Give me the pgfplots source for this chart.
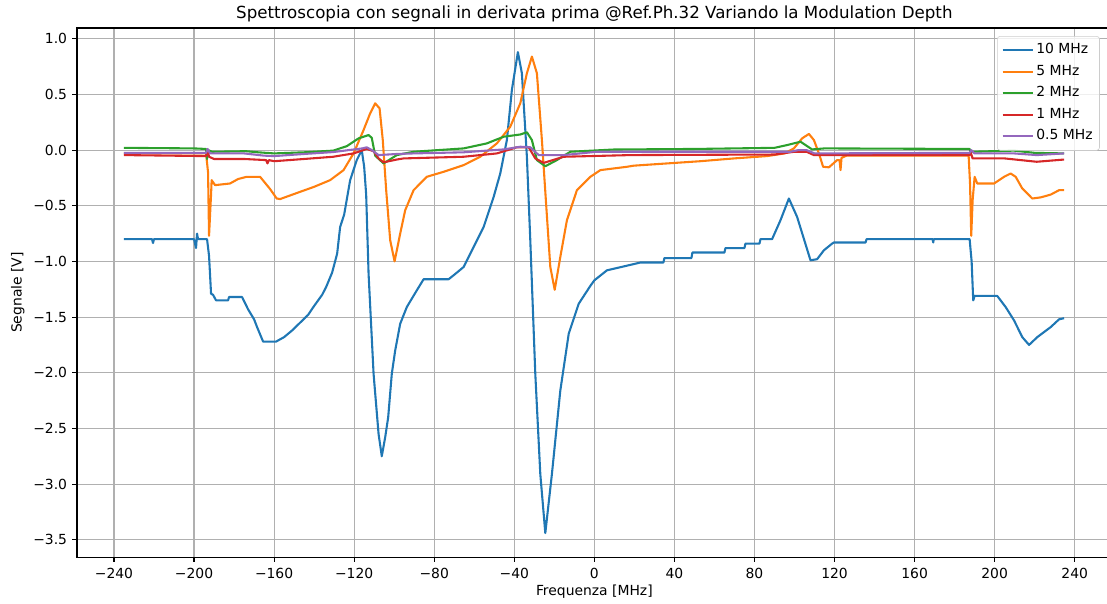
\documentclass[border=0pt]{standalone}
\usepackage{fontspec}
\setmainfont{DejaVu Sans}
\usepackage{pgfplots}
\pgfplotsset{compat=1.18}

\definecolor{c0}{HTML}{1F77B4}
\definecolor{c1}{HTML}{FF7F0E}
\definecolor{c2}{HTML}{2CA02C}
\definecolor{c3}{HTML}{D62728}
\definecolor{c4}{HTML}{9467BD}
\definecolor{gridc}{HTML}{B0B0B0}
\definecolor{legc}{HTML}{CCCCCC}

\begin{document}
\begin{tikzpicture}
\begin{axis}[
  name=ax,
  scale only axis,
  width=745pt, height=380.9pt,
  xmin=-258.5, xmax=258.5, ymin=-3.656, ymax=1.096,
  xtick={-240,-200,-160,-120,-80,-40,0,40,80,120,160,200,240},
  xticklabels={−240,−200,−160,−120,−80,−40,0,40,80,120,160,200,240},
  ytick={1.0,0.5,0,-0.5,-1,-1.5,-2,-2.5,-3,-3.5},
  yticklabels={1.0,0.5,0.0,−0.5,−1.0,−1.5,−2.0,−2.5,−3.0,−3.5},
  tick align=outside, major tick length=3.5pt,
  tick style={black, line width=0.8pt},
  xtick pos=bottom, ytick pos=left,
  axis line style={black, line width=0.8pt},
  grid=major, major grid style={gridc, line width=0.8pt},
  tick label style={font=\fontsize{10}{12}\selectfont},
  xticklabel style={anchor=base, yshift=-11.6pt, inner sep=0pt},
  yticklabel style={anchor=east, xshift=-3.4pt, inner sep=0pt},
  title={Spettroscopia con segnali in derivata prima @Ref.Ph.32 Variando la Modulation Depth},
  title style={at={(axis description cs:0.5,1)}, anchor=base, yshift=1pt, font=\fontsize{12}{14}\selectfont},
  xlabel={Frequenza [MHz]},
  xlabel style={at={(axis description cs:0.5,-0.0662)}, anchor=center, font=\fontsize{10}{12}\selectfont},
  ylabel={Segnale [V]},
  ylabel style={at={(axis description cs:-0.0571,0.5)}, anchor=center, font=\fontsize{10}{12}\selectfont},
  legend cell align=left,
  legend image code/.code={\draw[#1] (0pt,0pt) -- (21.6pt,0pt);},
  legend style={at={(1,1)}, anchor=north east, xshift=-8.6pt, yshift=-5.8pt,
    draw=legc, rounded corners=2pt, fill=white, fill opacity=0.8, text opacity=1,
    font=\fontsize{10}{12}\selectfont, inner xsep=3pt, inner ysep=3pt, row sep=1.5pt,
    nodes={inner sep=2pt, text height=7.5pt, text depth=2.5pt}},
  every axis plot/.append style={line width=1.5pt, line join=round},
]
% 10 MHz
\addplot[c0] coordinates {
(-235,-0.80)(-221,-0.80)(-220.5,-0.835)(-220,-0.80)(-200,-0.80)(-199,-0.88)(-198.5,-0.75)(-198,-0.80)
(-193.5,-0.80)(-192.5,-0.95)(-191.5,-1.29)(-190.5,-1.30)(-189,-1.35)(-183,-1.35)(-182.5,-1.32)(-176,-1.32)
(-173,-1.43)(-170,-1.52)(-168.5,-1.59)(-165.5,-1.72)(-159,-1.72)(-155,-1.68)(-151,-1.62)(-147,-1.55)
(-143,-1.48)(-140,-1.40)(-136,-1.30)(-134,-1.23)(-131,-1.10)(-128.5,-0.93)(-127,-0.69)(-125,-0.58)
(-122,-0.27)(-118.7,-0.09)(-116.2,0.0)(-115,-0.15)(-114,-0.40)(-112.8,-1.11)(-110.3,-2.01)(-107.8,-2.55)
(-106.2,-2.75)(-104.5,-2.58)(-103,-2.40)(-101.2,-2.01)(-99.5,-1.80)(-97,-1.56)(-93.7,-1.41)(-88.7,-1.26)
(-85.3,-1.16)(-72.8,-1.16)(-70,-1.12)(-65.3,-1.05)(-60.3,-0.87)(-55.3,-0.69)(-50.3,-0.42)(-47,-0.21)
(-43.7,0.09)(-41.2,0.54)(-38.2,0.88)(-36.2,0.69)(-33.7,-0.06)(-32,-0.81)(-29.5,-2.01)(-27,-2.91)
(-24.5,-3.44)(-21.2,-2.91)(-17,-2.16)(-12.8,-1.65)(-7.8,-1.38)(-2,-1.22)(0,-1.17)(6.3,-1.08)
(14.7,-1.045)(23,-1.01)(34.5,-1.01)(35,-0.97)(48.5,-0.97)(49,-0.92)(65,-0.92)(65.5,-0.88)
(75,-0.88)(75.5,-0.84)(82.5,-0.84)(83,-0.80)(88.8,-0.80)
(93,-0.63)(97.2,-0.435)(101.3,-0.60)(108,-0.99)(111.3,-0.98)(114.7,-0.90)(118.8,-0.84)(119.7,-0.83)
(135.5,-0.83)(136,-0.80)(169,-0.80)(169.3,-0.83)(169.6,-0.80)(187.5,-0.80)(188.5,-1.0)(189.3,-1.35)
(190,-1.31)(201.3,-1.31)(205.5,-1.41)(209.7,-1.53)(213.8,-1.68)(217.2,-1.75)(221.3,-1.68)(228,-1.59)
(232.2,-1.52)(234.7,-1.51)
};
\addlegendentry{10 MHz}
% 5 MHz
\addplot[c1] coordinates {
(-235,-0.03)(-194,-0.03)(-193,-0.20)(-192.5,-0.77)(-191.5,-0.40)(-191.2,-0.27)(-189.5,-0.315)(-182,-0.30)
(-178,-0.26)(-173.7,-0.24)(-167,-0.24)(-162,-0.35)(-158.7,-0.435)(-157,-0.44)(-147,-0.375)(-140,-0.33)
(-132,-0.27)(-125.3,-0.18)(-120.3,-0.03)(-115.3,0.18)(-112,0.33)(-109.5,0.42)(-107.3,0.375)(-105.7,0.09)
(-104,-0.36)(-102,-0.81)(-99.8,-1.0)(-97,-0.75)(-94.5,-0.54)(-90.3,-0.36)(-83.7,-0.24)(-75.3,-0.195)
(-65.3,-0.135)(-57,-0.06)(-48.7,0.06)(-42,0.21)(-37,0.42)(-33.7,0.69)(-31.2,0.84)(-28.7,0.69)
(-26.2,0.09)(-24,-0.51)(-22,-1.05)(-19.8,-1.255)(-17,-0.96)(-13.7,-0.63)(-8.7,-0.36)(-2,-0.24)
(3,-0.18)(16.3,-0.15)(19.7,-0.14)(36.3,-0.12)(53,-0.10)(69.7,-0.075)(86.3,-0.054)(95,-0.03)
(99.7,0.015)(103.8,0.105)(107.2,0.145)(109.7,0.09)(112.2,-0.03)(114.3,-0.15)(117.2,-0.155)(121.3,-0.09)
(122.5,-0.09)(123,-0.18)(123.5,-0.07)(126,-0.05)(187,-0.05)(187.7,-0.3)(188.3,-0.77)(189,-0.45)
(190,-0.24)(191.3,-0.30)(199.7,-0.30)(204.7,-0.24)(208,-0.21)(210.5,-0.24)(213.8,-0.345)(218.8,-0.435)
(223,-0.425)(228,-0.40)(232.2,-0.36)(234.7,-0.36)
};
\addlegendentry{5 MHz}
% 2 MHz
\addplot[c2] coordinates {
(-235,0.02)(-200,0.015)(-194,0.01)(-193.5,-0.08)(-193,0.0)(-191,-0.015)(-174,-0.01)(-168,-0.02)
(-160,-0.03)(-145,-0.02)(-130.5,-0.005)(-123.7,0.035)(-117.8,0.105)(-112.8,0.135)(-111.2,0.11)(-109.5,-0.05)
(-105.3,-0.12)(-98.7,-0.045)(-90.3,-0.015)(-65.3,0.015)(-53.7,0.06)(-45.3,0.12)(-37,0.14)(-33.7,0.16)
(-31.2,0.09)(-28.7,-0.09)(-24.5,-0.145)(-18.7,-0.09)(-12,-0.015)(9.7,0.005)(50,0.01)(90,0.02)
(96.3,0.045)(103,0.075)(105.5,0.045)(108.8,0.006)(115,0.015)(187.5,0.01)(188,-0.015)(209.7,-0.005)
(220,-0.025)(234.7,-0.03)
};
\addlegendentry{2 MHz}
% 1 MHz
\addplot[c3] coordinates {
(-235,-0.045)(-194,-0.054)(-193.2,0.0)(-192.5,-0.06)(-190,-0.08)(-175,-0.08)(-164,-0.09)(-163.3,-0.12)
(-162.6,-0.09)(-160,-0.10)(-145,-0.08)(-130.5,-0.06)(-120.3,-0.03)(-113.7,0.01)(-110.3,-0.01)(-107.8,-0.075)
(-105.3,-0.11)(-98.7,-0.085)(-95.3,-0.075)(-65.3,-0.06)(-48.7,-0.03)(-38.7,0.025)(-32.8,0.025)(-29.5,-0.075)
(-25.3,-0.115)(-15.3,-0.06)(18,-0.045)(90,-0.04)(100,-0.015)(106,-0.015)(109.7,-0.045)(187.5,-0.045)
(188,-0.02)(189,-0.075)(205,-0.075)(221,-0.105)(234.7,-0.085)
};
\addlegendentry{1 MHz}
% 0.5 MHz
\addplot[c4] coordinates {
(-235,-0.025)(-194,-0.025)(-193.2,0.01)(-192,-0.03)(-175,-0.03)(-165,-0.05)(-160,-0.054)(-145,-0.035)
(-130.5,-0.018)(-116,0.015)(-113.7,0.025)(-111.2,0.0)(-107.8,-0.045)(-98.7,-0.035)(-90.3,-0.03)(-65.3,-0.02)
(-45.3,0.006)(-37,0.03)(-32,0.025)(-27.8,-0.045)(-15.3,-0.045)(1.3,-0.015)(98,-0.015)(102,0.0)
(106,0.0)(110,-0.03)(187.5,-0.025)(188.3,0.0)(190,-0.03)(209.7,-0.03)(221,-0.045)(234.7,-0.03)
};
\addlegendentry{0.5 MHz}
\end{axis}
\pgfresetboundingbox
\path[use as bounding box] ([xshift=-55.4pt,yshift=-33.1pt]ax.south west) rectangle ([xshift=-3.4pt,yshift=20.2pt]ax.north east);
\end{tikzpicture}
\end{document}
